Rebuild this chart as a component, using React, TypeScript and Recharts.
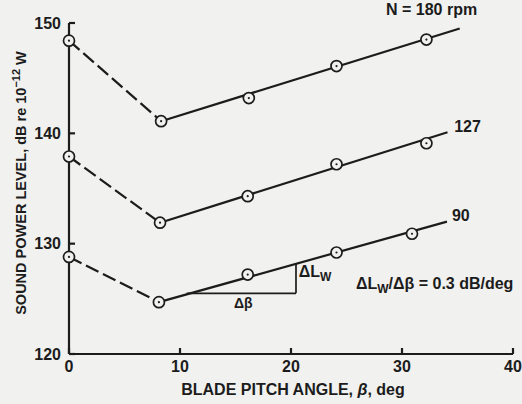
import React from 'react';
import {
    ComposedChart,
    Line,
    Scatter,
    XAxis,
    YAxis,
    ReferenceDot,
} from 'recharts';

// measured points, blade pitch angle (deg) vs sound power level (dB)
const pitch180 = [0, 8.3, 16.2, 24.1, 32.2];
const level180 = [148.4, 141.1, 143.2, 146.1, 148.5];
const pitch127 = [0, 8.2, 16.1, 24.1, 32.2];
const level127 = [137.9, 131.9, 134.3, 137.2, 139.1];
const pitch90 = [0, 8.1, 16.1, 24.1, 30.9];
const level90 = [128.8, 124.7, 127.2, 129.2, 130.9];

// straight fit lines (start at the second point, run past the last one)
const fit180 = [
    [8.3, 141.1],
    [35.2, 149.5],
];
const fit127 = [
    [8.2, 131.9],
    [34.1, 140.1],
];
const fit90 = [
    [8.1, 124.7],
    [34.05, 132.0],
];

// slope triangle under the 90 rpm line
const slopeRun = [
    [10.6, 125.5],
    [20.45, 125.5],
];
const slopeRise = [
    [20.45, 125.5],
    [20.45, 128.2],
];

const xTicks = [0, 10, 20, 30, 40];
const yTicks = [120, 130, 140, 150];

const INK = '#1c1c1c';
const PAPER = '#f1f1ef';
const FONT = '"Liberation Sans", Arial, Helvetica, sans-serif';

const toPts = (xs: number[], ys: number[]) =>
    xs.map((x, i) => ({ beta: x, lw: ys[i] }));
const pairs = (p: number[][]) => p.map(([x, y]) => ({ beta: x, lw: y }));

const PointMark = (props: any) => {
    const { cx, cy } = props;
    if (cx == null || cy == null) return null;
    return (
        <g>
            <circle cx={cx} cy={cy} r={5.5} fill={PAPER} stroke={INK} strokeWidth={1.7} />
            <circle cx={cx} cy={cy} r={1.1} fill={INK} />
        </g>
    );
};

// text anchored at a data point; parts are [text, isSubscript]
const note = (parts: [string, boolean][], anchor: string = 'start', size = 16) =>
    (props: any) => {
        const { x, y } = props.viewBox;
        return (
            <text
                x={x}
                y={y}
                dy={size * 0.36}
                textAnchor={anchor}
                fill={INK}
                fontFamily={FONT}
                fontWeight="bold"
                fontSize={size}
            >
                {parts.map(([t, sub], i) => (
                    <tspan
                        key={i}
                        fontSize={sub ? size * 0.75 : size}
                        dy={sub ? 4 : i > 0 && parts[i - 1][1] ? -4 : 0}
                    >
                        {t}
                    </tspan>
                ))}
            </text>
        );
    };

const YTitle = () => {
    const x = 26;
    const y = 183;
    return (
        <text
            x={x}
            y={y}
            transform={`rotate(-90, ${x}, ${y})`}
            textAnchor="middle"
            fill={INK}
            fontFamily={FONT}
            fontWeight="bold"
            fontSize={14.5}
        >
            SOUND POWER LEVEL, dB re 10
            <tspan dy={-6} fontSize={11}>
                −12
            </tspan>
            <tspan dy={6}> W</tspan>
        </text>
    );
};

const XTitle = (props: any) => {
    const { viewBox } = props;
    return (
        <text
            x={viewBox.x + viewBox.width / 2 + 2}
            y={viewBox.y + 41}
            textAnchor="middle"
            fill={INK}
            fontFamily={FONT}
            fontWeight="bold"
            fontSize={16}
        >
            BLADE PITCH ANGLE, <tspan fontStyle="italic">β</tspan>, deg
        </text>
    );
};

const tickStyle = { fill: INK, fontFamily: FONT, fontWeight: 'bold', fontSize: 16 };

const App = () => {
    const lineProps = {
        dataKey: 'lw',
        stroke: INK,
        strokeWidth: 2.2,
        dot: false,
        activeDot: false,
        isAnimationActive: false,
        type: 'linear' as const,
    };

    return (
        <div style={{ position: 'absolute', left: 0, top: 0, width: 522, height: 404, background: PAPER }}>
            <ComposedChart
                width={522}
                height={404}
                margin={{ top: 23, right: 9, bottom: 0, left: 0 }}
            >
                <XAxis
                    dataKey="beta"
                    type="number"
                    domain={[0, 40]}
                    ticks={xTicks}
                    height={50}
                    stroke={INK}
                    strokeWidth={2.2}
                    tickSize={-6}
                    tickMargin={13}
                    tick={tickStyle}
                    label={<XTitle />}
                />
                <YAxis
                    type="number"
                    domain={[120, 150]}
                    ticks={yTicks}
                    width={69}
                    stroke={INK}
                    strokeWidth={2.2}
                    tickSize={-6}
                    tickMargin={14}
                    tick={tickStyle}
                    label={<YTitle />}
                />

                {/* dashed drop from 0 deg to the minimum */}
                <Line {...lineProps} data={toPts(pitch180, level180).slice(0, 2)} strokeDasharray="14 5" />
                <Line {...lineProps} data={toPts(pitch127, level127).slice(0, 2)} strokeDasharray="14 5" />
                <Line {...lineProps} data={toPts(pitch90, level90).slice(0, 2)} strokeDasharray="14 5" />

                <Line {...lineProps} data={pairs(fit180)} />
                <Line {...lineProps} data={pairs(fit127)} />
                <Line {...lineProps} data={pairs(fit90)} />

                <Line {...lineProps} data={pairs(slopeRun)} strokeWidth={1.7} />
                <Line {...lineProps} data={pairs(slopeRise)} strokeWidth={1.7} />

                <Scatter data={toPts(pitch180, level180)} dataKey="lw" shape={<PointMark />} isAnimationActive={false} />
                <Scatter data={toPts(pitch127, level127)} dataKey="lw" shape={<PointMark />} isAnimationActive={false} />
                <Scatter data={toPts(pitch90, level90)} dataKey="lw" shape={<PointMark />} isAnimationActive={false} />

                <ReferenceDot x={28.56} y={150.73} r={0} fill="none" stroke="none" ifOverflow="visible"
                    label={note([['N = 180 rpm', false]])} />
                <ReferenceDot x={34.7} y={140.1} r={0} fill="none" stroke="none" ifOverflow="visible"
                    label={note([['127', false]])} />
                <ReferenceDot x={34.5} y={132.05} r={0} fill="none" stroke="none" ifOverflow="visible"
                    label={note([['90', false]])} />
                <ReferenceDot x={20.7} y={127.0} r={0} fill="none" stroke="none" ifOverflow="visible"
                    label={note([['ΔL', false], ['W', true]])} />
                <ReferenceDot x={15.7} y={124.16} r={0} fill="none" stroke="none" ifOverflow="visible"
                    label={note([['Δβ', false]], 'middle', 14)} />
                <ReferenceDot x={25.85} y={125.85} r={0} fill="none" stroke="none" ifOverflow="visible"
                    label={note([['ΔL', false], ['W', true], ['/Δβ = 0.3 dB/deg', false]])} />
            </ComposedChart>
        </div>
    );
};

export default App;
